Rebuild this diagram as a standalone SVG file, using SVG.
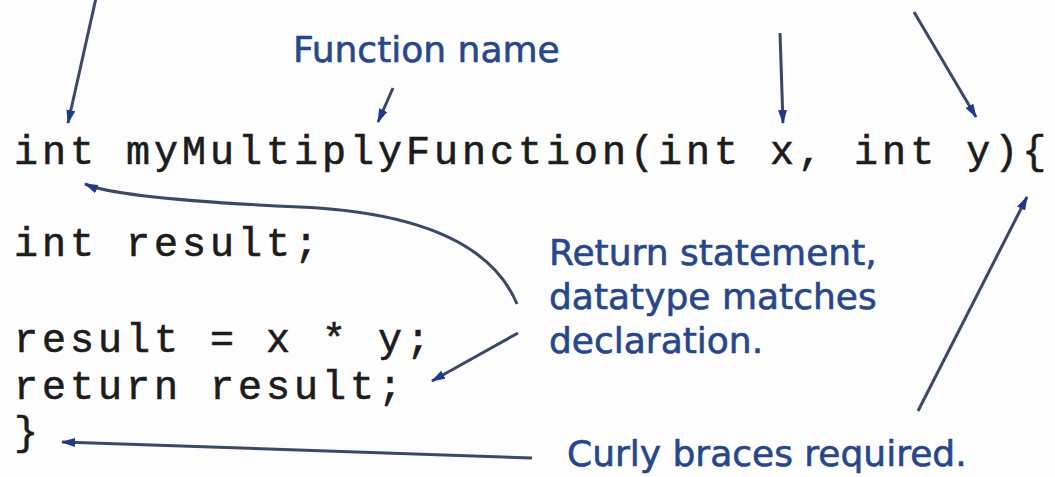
<svg xmlns="http://www.w3.org/2000/svg" width="1055" height="477" viewBox="0 0 1055 477">
  <style>
    .code { font-family: "Liberation Mono", "Courier New", monospace; font-size: 40px; letter-spacing: 4px; fill: #1c1c1c; stroke: #1c1c1c; stroke-width: 0.6; }
    .label { font-family: "DejaVu Sans", Verdana, sans-serif; font-size: 36px; fill: #27478a; stroke: #27478a; stroke-width: 0.6; }
    .conn { fill: none; stroke: #3b4866; stroke-width: 3; marker-end: url(#head); }
  </style>
  <defs>
    <marker id="head" viewBox="0 0 14 9" refX="13" refY="4.5" markerWidth="14" markerHeight="9" markerUnits="userSpaceOnUse" orient="auto">
      <path d="M0,0 L14,4.5 L0,9 Z" fill="#1f3a86"/>
    </marker>
  </defs>
  <rect x="0" y="0" width="1055" height="477" fill="#fdfdfd"/>

  <g id="code">
    <text class="code" x="14" y="164" xml:space="preserve">int myMultiplyFunction(int x, int y){</text>
    <text class="code" x="14" y="256" xml:space="preserve">int result;</text>
    <text class="code" x="14" y="352" xml:space="preserve">result = x * y;</text>
    <text class="code" x="14" y="399" xml:space="preserve">return result;</text>
    <text class="code" x="14" y="445" xml:space="preserve">}</text>
  </g>

  <g id="label-function-name">
    <text class="label" x="293" y="62">Function name</text>
  </g>
  <g id="label-return">
    <text class="label" x="549" y="265">Return statement,</text>
    <text class="label" x="549" y="309">datatype matches</text>
    <text class="label" x="549" y="353">declaration.</text>
  </g>
  <g id="label-curly">
    <text class="label" x="567" y="466">Curly braces required.</text>
  </g>

  <g id="connectors">
    <line class="conn" x1="96" y1="-2" x2="68" y2="123"/>
    <line class="conn" x1="393" y1="88" x2="378" y2="122"/>
    <line class="conn" x1="780" y1="33" x2="783" y2="123"/>
    <line class="conn" x1="914" y1="12" x2="976" y2="117"/>
    <line class="conn" x1="918" y1="411" x2="1027" y2="197"/>
    <path class="conn" d="M517,304 Q480,215 300,207 T85,184"/>
    <line class="conn" x1="518" y1="333" x2="432" y2="381"/>
    <line class="conn" x1="532" y1="458" x2="62" y2="442"/>
  </g>
</svg>
